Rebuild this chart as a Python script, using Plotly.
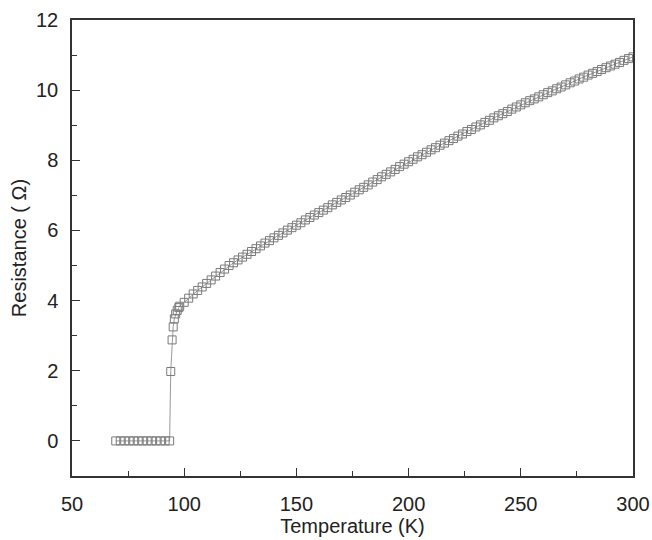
import plotly.graph_objects as go

# Superconducting transition: flat region (R = 0)
T_flat = [69.5, 71.5, 73.5, 75.5, 77.5, 79.5, 81.5, 83.5, 85.5, 87.5, 89.5, 91.5, 93.5]
R_flat = [0.0] * len(T_flat)

# Transition jump
T_jump = [94.0, 94.6, 95.1, 95.6, 96.2, 96.9, 97.6]
R_jump = [1.98, 2.88, 3.25, 3.48, 3.62, 3.72, 3.80]

# Normal state
T_norm = [98, 100, 102, 104, 106, 108, 110, 112, 114, 116, 118, 120, 122, 124, 126, 128,
          130, 132, 134, 136, 138, 140, 142, 144, 146, 148, 150, 152, 154, 156, 158, 160,
          162, 164, 166, 168, 170, 172, 174, 176, 178, 180, 182, 184, 186, 188, 190, 192,
          194, 196, 198, 200, 202, 204, 206, 208, 210, 212, 214, 216, 218, 220, 222, 224,
          226, 228, 230, 232, 234, 236, 238, 240, 242, 244, 246, 248, 250, 252, 254, 256,
          258, 260, 262, 264, 266, 268, 270, 272, 274, 276, 278, 280, 282, 284, 286, 288,
          290, 292, 294, 296, 298, 300]
R_norm = [3.84, 3.95, 4.07, 4.19, 4.29, 4.39, 4.49, 4.59, 4.70, 4.80, 4.90, 5.00, 5.08, 5.16,
          5.24, 5.32, 5.40, 5.48, 5.56, 5.64, 5.71, 5.79, 5.86, 5.93, 6.01, 6.08, 6.15, 6.22,
          6.30, 6.37, 6.44, 6.51, 6.58, 6.65, 6.73, 6.80, 6.87, 6.94, 7.01, 7.09, 7.16, 7.23,
          7.30, 7.38, 7.45, 7.53, 7.60, 7.67, 7.74, 7.82, 7.89, 7.96, 8.03, 8.10, 8.16, 8.23,
          8.30, 8.36, 8.43, 8.49, 8.56, 8.62, 8.69, 8.75, 8.82, 8.88, 8.95, 9.01, 9.08, 9.14,
          9.21, 9.27, 9.33, 9.39, 9.46, 9.52, 9.58, 9.64, 9.70, 9.75, 9.81, 9.87, 9.93, 9.98,
          10.04, 10.09, 10.15, 10.21, 10.26, 10.32, 10.37, 10.43, 10.48, 10.53, 10.59, 10.64,
          10.69, 10.74, 10.79, 10.85, 10.90, 10.95]

x_ticks = [50, 100, 150, 200, 250, 300]
y_ticks = [0, 2, 4, 6, 8, 10, 12]

T = T_flat + T_jump + T_norm
R = R_flat + R_jump + R_norm

fig = go.Figure()
fig.add_trace(go.Scatter(
    x=T, y=R, mode="lines+markers",
    line=dict(color="#9a9a9a", width=1),
    marker=dict(symbol="square-open", size=8, color="#7a7a7a", line=dict(width=1)),
    showlegend=False,
))

font_family = "Liberation Sans, Arial, sans-serif"
axis_common = dict(
    showline=True, linecolor="#333333", linewidth=1.5, mirror=True,
    ticks="inside", ticklen=8, tickwidth=1, tickcolor="#333333",
    showgrid=False, zeroline=False,
    tickfont=dict(family=font_family, size=20, color="#222222"),
)

fig.update_xaxes(
    range=[50, 300], tickvals=x_ticks,
    minor=dict(ticks="inside", ticklen=5, tickcolor="#333333", dtick=25, tick0=25, showgrid=False),
    title=dict(text="Temperature (K)", font=dict(family=font_family, size=20, color="#222222"), standoff=2),
    ticklabelstandoff=9,
    **axis_common,
)
fig.update_yaxes(
    range=[-1, 12], tickvals=y_ticks,
    minor=dict(ticks="inside", ticklen=5, tickcolor="#333333", dtick=1, tick0=1, showgrid=False),
    title=dict(text="Resistance ( \u03a9)", font=dict(family=font_family, size=20, color="#222222"), standoff=4),
    ticklabelstandoff=8,
    **axis_common,
)

fig.update_layout(
    width=652, height=540,
    margin=dict(l=72, r=19, t=20, b=64, autoexpand=False),
    plot_bgcolor="white", paper_bgcolor="white",
)

fig.write_html(
    "out.html",
    config={"displayModeBar": False},
    post_script="document.body.style.margin='0px';document.body.style.padding='0px';",
)
